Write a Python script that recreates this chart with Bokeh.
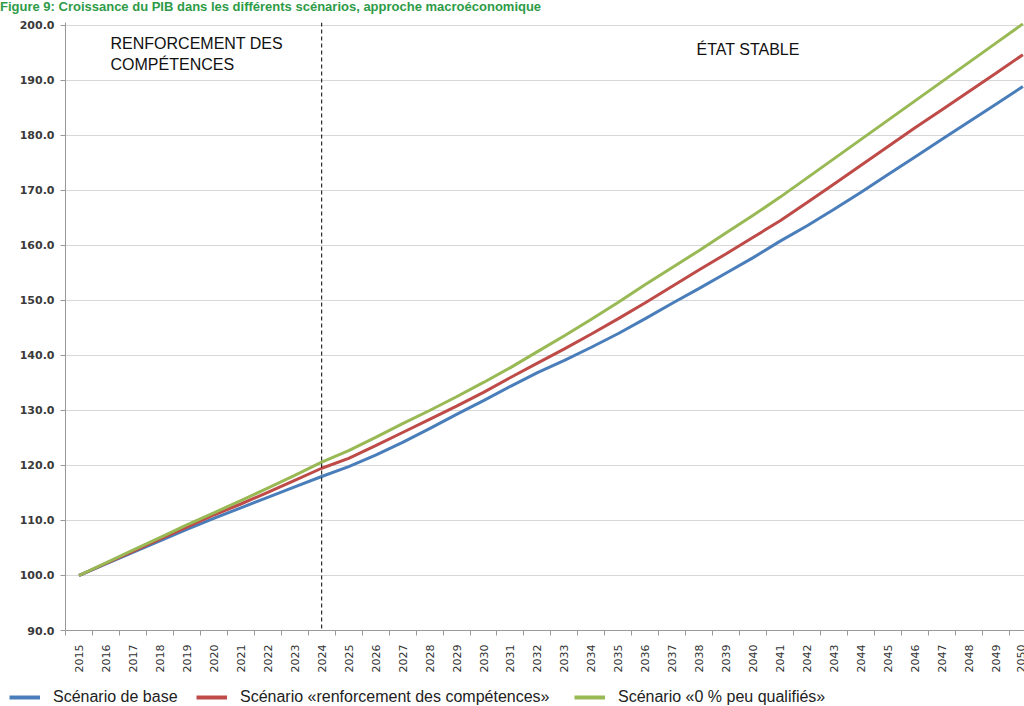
import math
from bokeh.plotting import figure
from bokeh.models import (FixedTicker, NumeralTickFormatter, Span, Label, Legend,
                          LegendItem, Range1d, Div, ColumnDataSource)
from bokeh.layouts import column
from bokeh.embed import file_html
from bokeh.resources import INLINE

title_text = "Figure 9: Croissance du PIB dans les différents scénarios, approche macroéconomique"

years = list(range(2015, 2051))
base = [100.0, 102.1, 104.2, 106.3, 108.4, 110.4, 112.3, 114.2, 116.1, 118.0,
        119.8, 121.9, 124.2, 126.7, 129.3, 131.8, 134.4, 136.9, 139.1, 141.5,
        144.0, 146.7, 149.5, 152.2, 155.0, 157.8, 160.8, 163.6, 166.6, 169.7,
        172.9, 176.1, 179.3, 182.5, 185.7, 188.9]
renforcement = [100.0, 102.2, 104.4, 106.6, 108.8, 111.0, 113.0, 115.1, 117.3, 119.5,
                121.3, 123.6, 126.0, 128.4, 130.8, 133.3, 136.0, 138.6, 141.2, 143.9,
                146.7, 149.6, 152.6, 155.6, 158.5, 161.5, 164.5, 167.8, 171.2, 174.6,
                178.0, 181.4, 184.7, 188.0, 191.3, 194.7]
zero_peu_qualifies = [100.0, 102.3, 104.6, 106.9, 109.2, 111.4, 113.6, 115.9, 118.2, 120.6,
                      122.7, 125.1, 127.6, 130.0, 132.5, 135.1, 137.8, 140.7, 143.6, 146.6,
                      149.7, 152.9, 156.0, 159.1, 162.3, 165.5, 168.8, 172.3, 175.8, 179.3,
                      182.8, 186.3, 189.8, 193.3, 196.8, 200.3]

series_names = ["Scénario de base",
                "Scénario «renforcement des compétences»",
                "Scénario «0 % peu qualifiés»"]
series_colors = ["#4a7ebb", "#be4b48", "#98b954"]
series_cols = ["base", "renf", "zero"]
y_ticks = [90, 100, 110, 120, 130, 140, 150, 160, 170, 180, 190, 200]
phase_split_year = 2024
phase_labels = ["RENFORCEMENT DES\nCOMPÉTENCES", "ÉTAT STABLE"]

src = ColumnDataSource(dict(year=years, base=base, renf=renforcement, zero=zero_peu_qualifies))

p = figure(width=1024, height=668, output_backend="svg", toolbar_location=None,
           x_range=Range1d(2014.5, 2050.06), y_range=Range1d(90, 200.545),
           min_border_left=65, min_border_right=0, min_border_top=8, min_border_bottom=52)
p.outline_line_color = None
p.background_fill_color = "white"
p.border_fill_color = "white"
p.frame_align = False

# grid
p.xgrid.visible = False
p.ygrid.ticker = FixedTicker(ticks=y_ticks)
p.ygrid.grid_line_color = "#b0b0b0"
p.ygrid.grid_line_dash = "1 1"
p.ygrid.grid_line_width = 1

# x axis
xa = p.xaxis[0]
xa.ticker = FixedTicker(ticks=years, minor_ticks=[y - 0.5 for y in years] + [years[-1] + 0.5])
xa.major_tick_out = 0
xa.major_tick_in = 0
xa.minor_tick_out = 5
xa.minor_tick_in = 0
xa.minor_tick_line_color = "#999999"
xa.axis_line_color = "#999999"
xa.major_label_orientation = math.pi / 2
xa.major_label_standoff = 9
xa.major_label_text_font = "DejaVu Sans"
xa.major_label_text_font_size = "11px"
xa.major_label_text_color = "#333333"

# y axis
ya = p.yaxis[0]
ya.ticker = FixedTicker(ticks=y_ticks)
ya.formatter = NumeralTickFormatter(format="0.0")
ya.major_tick_out = 5
ya.major_tick_in = 0
ya.minor_tick_out = 0
ya.minor_tick_in = 0
ya.major_tick_line_color = "#999999"
ya.axis_line_color = "#999999"
ya.major_label_standoff = 6
ya.major_label_text_font = "DejaVu Sans"
ya.major_label_text_font_style = "bold"
ya.major_label_text_font_size = "11px"
ya.major_label_text_color = "#3a3a3a"

# lines
for col, color in zip(series_cols, series_colors):
    p.line("year", col, source=src, line_color=color, line_width=3)

# phase separator
p.add_layout(Span(location=phase_split_year, dimension="height", line_color="black",
                  line_dash="4 3", line_width=1))

p.add_layout(Label(x=2016.17, y=198.2, text=phase_labels[0], text_baseline="top",
                   text_font="Liberation Sans", text_font_size="16px", text_color="#111111"))
p.add_layout(Label(x=2037.9, y=197.2, text=phase_labels[1], text_baseline="top",
                   text_font="Liberation Sans", text_font_size="16px", text_color="#111111"))

# legend strip (separate small figure below the chart; its lines fall outside its ranges)
lf = figure(width=1024, height=24, output_backend="svg", toolbar_location=None,
            x_range=Range1d(0, 1), y_range=Range1d(0, 1),
            x_axis_type=None, y_axis_type=None,
            min_border_left=0, min_border_right=0, min_border_top=0, min_border_bottom=0)
lf.outline_line_color = None
lf.grid.visible = False
lf.frame_align = False

for name, col, color, loc in [(series_names[0], series_cols[0], series_colors[0], (9, 0)),
                              (series_names[1], series_cols[1], series_colors[1], (196, 0)),
                              (series_names[2], series_cols[2], series_colors[2], (574, 0))]:
    r = lf.line("year", col, source=src, line_color=color, line_width=4)
    lg = Legend(items=[LegendItem(label=name, renderers=[r])], location=loc,
                orientation="horizontal", padding=0, margin=0, spacing=0,
                glyph_width=31, glyph_height=18, label_height=18, label_standoff=13,
                label_text_font="Liberation Sans", label_text_font_size="16px",
                label_text_color="#222222", border_line_alpha=0,
                background_fill_alpha=0)
    lf.add_layout(lg, "center")

title = Div(text=title_text, width=1024, height=14,
            styles={"font-family": "Liberation Sans", "font-size": "13px",
                    "font-weight": "bold", "color": "#2e9b47", "line-height": "14px",
                    "white-space": "nowrap", "margin": "0", "padding": "0"})

layout = column(title, p, lf, spacing=0)
open("out.html", "w").write(file_html(layout, INLINE))
